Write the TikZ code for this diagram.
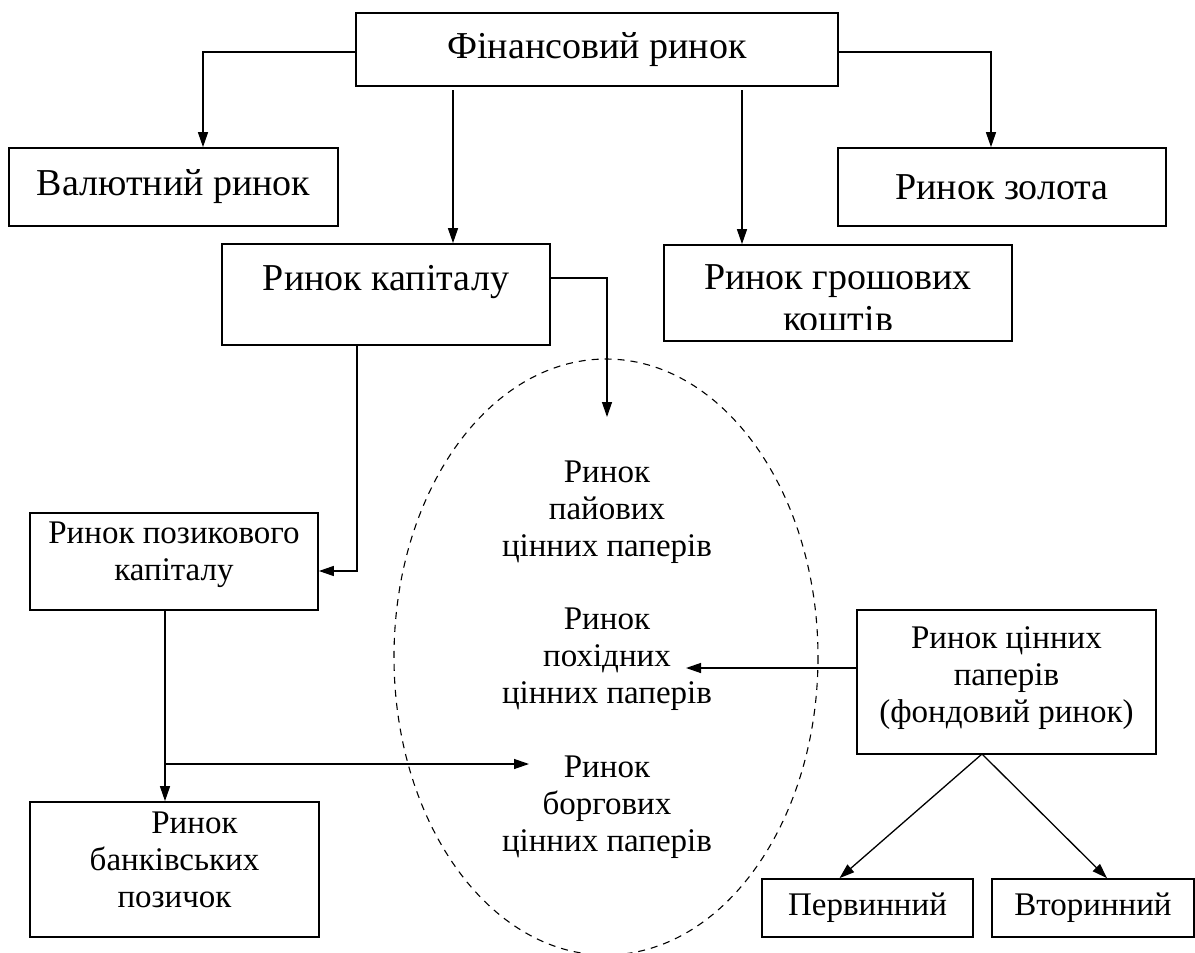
\documentclass[tikz,border=0pt]{standalone}
\usepackage{fontspec}
\setmainfont{Liberation Serif}
\usetikzlibrary{arrows.meta}

\begin{document}
\begin{tikzpicture}[x=0.5pt, y=-0.5pt,
  box/.style={draw, line width=0.85pt, inner sep=0pt, align=center},
  big/.style={font=\fontsize{19}{21}\selectfont},
  small/.style={font=\fontsize{16.5}{18.5}\selectfont},
  link/.style={line width=0.65pt},
  arr/.style={link, -{Triangle[length=7.5pt, width=5pt]}},
  oval/.style={dashed, dash pattern=on 3.5pt off 3pt, line width=0.55pt},
  inlabel/.style={small, inner sep=0pt, align=center}]

\useasboundingbox (0,0) rectangle (1195,953);

% --- boxes ---
\node[box, big, minimum width=241pt, minimum height=36.5pt] (fin) at (597,49.5) {Фінансовий ринок};
\node[box, big, minimum width=164.5pt, minimum height=39pt] (val) at (173.5,187) {Валютний ринок};
\node[box, big, minimum width=164pt, minimum height=39pt] (gold) at (1002,187) {Ринок золота};
\node[box, big, minimum width=164pt, minimum height=50.5pt] (kap) at (386,294.5) {Ринок капіталу\rule[-17pt]{0pt}{17pt}};
\node[box, minimum width=174pt, minimum height=48pt] (money) at (838,293) {};
\begin{scope}
  \clip (money.north west) rectangle ([yshift=6pt]money.south east);
  \node[big, inner sep=0pt, align=center] (moneytext) at (838,298.5) {Ринок грошових\\коштів};
\end{scope}
\node[box, small, minimum width=144pt, minimum height=48.5pt] (poz) at (174,561.5) {Ринок позикового\\капіталу\rule[-10pt]{0pt}{10pt}};
\node[box, small, minimum width=144.5pt, minimum height=67.5pt] (bank) at (174.5,869.5) {\hspace*{20pt}Ринок\\банківських\\позичок\rule[-10pt]{0pt}{10pt}};
\node[box, small, minimum width=149.5pt, minimum height=72pt] (cp) at (1006.5,682) {Ринок цінних\\паперів\\(фондовий ринок)\rule[-7pt]{0pt}{7pt}};
\node[box, small, minimum width=105.5pt, minimum height=29pt] (perv) at (867.5,908) {Первинний};
\node[box, small, minimum width=101pt, minimum height=29pt] (vtor) at (1093,908) {Вторинний};

% --- dashed oval with the securities markets ---
\draw[oval] (606,657) ellipse [x radius=212, y radius=298];
\node[inlabel] (equity) at (607,512.5) {Ринок\\пайових\\цінних паперів};
\node[inlabel] (deriv) at (607,659) {Ринок\\похідних\\цінних паперів};
\node[inlabel] (debt) at (607,807) {Ринок\\боргових\\цінних паперів};

% --- bend points and free arrow ends ---
\coordinate (valbend) at (203,52);
\coordinate (goldbend) at (991,52);
\coordinate (kapin) at (453,90);
\coordinate (monin) at (742,90);
\coordinate (kapbend) at (607,278);
\coordinate (kaptip) at (607,417);
\coordinate (pozbend) at (357,571);
\coordinate (bankfork) at (165,764);
\coordinate (debttip) at (529,764);
\coordinate (derivtip) at (686,668);
\coordinate (cpfoot) at (982,754);

% --- connectors ---
\draw[arr] (fin.west |- valbend) -- (valbend) -- (valbend |- val.north);
\draw[arr] (fin.east |- goldbend) -- (goldbend) -- (goldbend |- gold.north);
\draw[arr] (kapin) -- (kapin |- kap.north);
\draw[arr] (monin) -- (monin |- money.north);
\draw[arr] (kap.east |- kapbend) -- (kapbend) -- (kaptip);
\draw[arr] (kap.south -| pozbend) -- (pozbend) -- (poz.east |- pozbend);
\draw[arr] (poz.south -| bankfork) -- (bank.north -| bankfork);
\draw[arr] (bankfork) -- (debttip);
\draw[arr] (cp.west |- derivtip) -- (derivtip);
\draw[arr] (cpfoot) -- ([xshift=-14pt]perv.north);
\draw[arr] (cpfoot) -- ([xshift=7pt]vtor.north);

\end{tikzpicture}
\end{document}
